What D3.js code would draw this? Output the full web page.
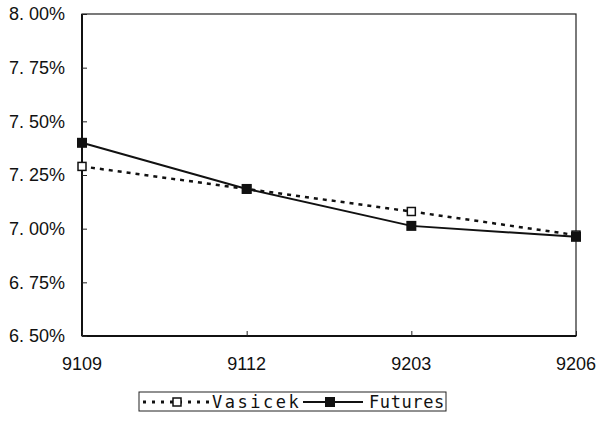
<!DOCTYPE html>
<html>
<head>
<meta charset="utf-8">
<script src="https://cdn.jsdelivr.net/npm/d3@7"></script>
<style>
  body { margin: 0; background: #fff; }
  text { font-family: "Liberation Sans", Arial, sans-serif; fill: #111; }
</style>
</head>
<body>
<div id="chart"></div>
<script>
// data
var periods = ["9109", "9112", "9203", "9206"];
var vasicek = [7.29, 7.185, 7.08, 6.97];
var futures = [7.40, 7.185, 7.013, 6.962];
var yTicks = [6.50, 6.75, 7.00, 7.25, 7.50, 7.75, 8.00];

function init() {
    var W = 602, H = 425;
    var margin = { top: 14, right: 26, bottom: 89, left: 82 },
        w = W - margin.left - margin.right,
        h = H - margin.top - margin.bottom;

    var svg = d3.select("#chart").append("svg")
        .attr("width", W).attr("height", H);
    var g = svg.append("g")
        .attr("transform", `translate(${margin.left},${margin.top})`);

    var x = d3.scalePoint().domain(periods).range([0, w]).padding(0);
    var y = d3.scaleLinear().domain([6.5, 8.0]).range([h, 0]);

    // frame
    g.append("rect")
        .attr("width", w).attr("height", h)
        .attr("fill", "none").attr("stroke", "#222").attr("stroke-width", 1.2);
    g.append("line").attr("x1", 0).attr("x2", 0).attr("y1", 0).attr("y2", h)
        .attr("stroke", "#111").attr("stroke-width", 2);
    g.append("line").attr("x1", 0).attr("x2", w).attr("y1", h).attr("y2", h)
        .attr("stroke", "#111").attr("stroke-width", 2);

    // y axis: inner ticks, labels on the left
    var yAxis = g.append("g")
        .call(d3.axisRight(y).tickValues(yTicks).tickSize(5).tickFormat(""));
    yAxis.select(".domain").remove();
    yAxis.selectAll("line").attr("stroke", "#222");
    g.selectAll(".ylab").data(yTicks).enter().append("text")
        .attr("class", "ylab")
        .attr("x", -17).attr("y", d => y(d)).attr("dy", "0.36em")
        .attr("text-anchor", "end").style("font-size", "18px")
        .text(d => d.toFixed(2).replace(".", ". ") + "%");

    // x axis: inner ticks, labels below
    var xAxis = g.append("g").attr("transform", `translate(0,${h})`)
        .call(d3.axisTop(x).tickSize(5).tickFormat(""));
    xAxis.select(".domain").remove();
    xAxis.selectAll("line").attr("stroke", "#222");
    g.selectAll(".xlab").data(periods).enter().append("text")
        .attr("class", "xlab")
        .attr("x", d => x(d)).attr("y", h + 34)
        .attr("text-anchor", "middle").style("font-size", "18px")
        .text(d => d);

    var line = d3.line().x((d, i) => x(periods[i])).y(d => y(d));

    // Vasicek: dashed line, open squares
    g.append("path").datum(vasicek)
        .attr("d", line).attr("fill", "none")
        .attr("stroke", "#111").attr("stroke-width", 2.5)
        .attr("stroke-dasharray", "4,5");
    g.selectAll(".vm").data(vasicek).enter().append("rect")
        .attr("class", "vm")
        .attr("x", (d, i) => x(periods[i]) - 4).attr("y", d => y(d) - 4)
        .attr("width", 8).attr("height", 8)
        .attr("fill", "#fff").attr("stroke", "#111").attr("stroke-width", 1.5);

    // Futures: solid line, filled squares
    g.append("path").datum(futures)
        .attr("d", line).attr("fill", "none")
        .attr("stroke", "#111").attr("stroke-width", 2);
    g.selectAll(".fm").data(futures).enter().append("rect")
        .attr("class", "fm")
        .attr("x", (d, i) => x(periods[i]) - 5).attr("y", d => y(d) - 5)
        .attr("width", 10).attr("height", 10)
        .attr("fill", "#111");

    // legend
    var lg = svg.append("g").attr("transform", "translate(139,392)");
    lg.append("rect").attr("width", 307).attr("height", 19)
        .attr("fill", "#fff").attr("stroke", "#222").attr("stroke-width", 1);
    lg.append("line").attr("x1", 4).attr("x2", 70).attr("y1", 10).attr("y2", 10)
        .attr("stroke", "#111").attr("stroke-width", 3).attr("stroke-dasharray", "3,6");
    lg.append("rect").attr("x", 34).attr("y", 6).attr("width", 8).attr("height", 8)
        .attr("fill", "#fff").attr("stroke", "#111").attr("stroke-width", 1.5);
    lg.append("text").attr("x", 73).attr("y", 10).attr("dy", "0.36em")
        .style("font-family", "'DejaVu Sans Mono', monospace")
        .style("font-size", "17px").style("letter-spacing", "2.5px").text("Vasicek");
    lg.append("line").attr("x1", 164).attr("x2", 224).attr("y1", 10).attr("y2", 10)
        .attr("stroke", "#111").attr("stroke-width", 2);
    lg.append("rect").attr("x", 186).attr("y", 5).attr("width", 10).attr("height", 10)
        .attr("fill", "#111");
    lg.append("text").attr("x", 230).attr("y", 10).attr("dy", "0.36em")
        .style("font-family", "'DejaVu Sans Mono', monospace")
        .style("font-size", "17px").style("letter-spacing", "0.6px").text("Futures");
}

window.onload = init;
</script>
</body>
</html>
